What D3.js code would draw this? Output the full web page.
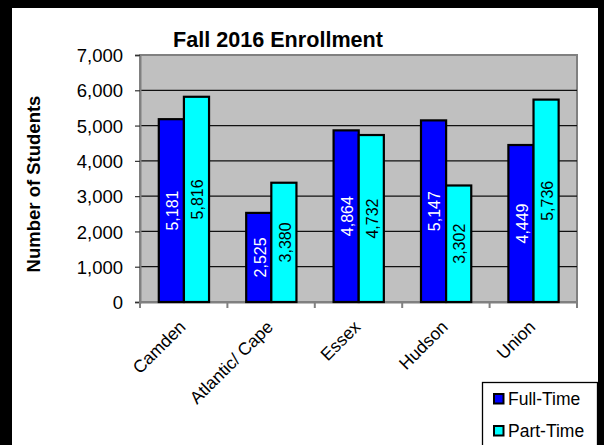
<!DOCTYPE html>
<html><head><meta charset="utf-8">
<script src="https://cdn.jsdelivr.net/npm/d3@7"></script>
<style>body{margin:0;background:#fff}svg{display:block;font-family:"Liberation Sans",Arial,sans-serif}</style>
</head><body>
<svg id="c" width="604" height="445"></svg>
<script>
const categories = ["Camden", "Atlantic/ Cape", "Essex", "Hudson", "Union"];
const seriesNames = ["Full-Time", "Part-Time"];
const fullTime = [5181, 2525, 4864, 5147, 4449];
const partTime = [5816, 3380, 4732, 3302, 5736];
const yTicks = [0, 1000, 2000, 3000, 4000, 5000, 6000, 7000];
const colors = ["#0000FF", "#00FFFF"];
const labelColors = ["#FFFFFF", "#000000"];
const title = "Fall 2016 Enrollment";
const yTitle = "Number of Students";

const svg = d3.select("#c");
const W = 604, H = 445;
// frame
svg.append("rect").attr("x",0).attr("y",0).attr("width",W).attr("height",H).attr("fill","#fff");
svg.append("rect").attr("x",0).attr("y",0).attr("width",12).attr("height",H).attr("fill","#000");
svg.append("rect").attr("x",0).attr("y",0).attr("width",W).attr("height",8).attr("fill","#000");
svg.append("rect").attr("x",598).attr("y",0).attr("width",6).attr("height",H).attr("fill","#000");

const L = 140, R = 577, T = 55, B = 302;
const x0 = d3.scaleBand().domain(categories).range([L, R]).padding(0);
const x1 = d3.scaleBand().domain(seriesNames).range([x0.bandwidth()*0.215, x0.bandwidth()*0.79]).padding(0);
const y = d3.scaleLinear().domain([0, 7000]).range([B, T]);

// plot area
svg.append("rect").attr("x",L).attr("y",T).attr("width",R-L).attr("height",B-T)
  .attr("fill","#C0C0C0").attr("stroke","#808080").attr("stroke-width",2);
// gridlines
svg.append("g").selectAll("line").data(yTicks.filter(d=>d>0&&d<7000)).join("line")
  .attr("x1",L).attr("x2",R).attr("y1",d=>y(d)).attr("y2",d=>y(d))
  .attr("stroke","#111").attr("stroke-width",1.3);

// y axis
const yAxis = d3.axisLeft(y).tickValues(yTicks).tickFormat(d3.format(",")).tickSize(5).tickPadding(12);
const gy = svg.append("g").attr("transform",`translate(${L},0)`).call(yAxis);
gy.select(".domain").attr("stroke","#808080").attr("stroke-width",2);
gy.selectAll(".tick line").attr("stroke","#333").attr("stroke-width",1.2);
gy.selectAll(".tick text").attr("font-size","18.5px").attr("fill","#000").attr("font-family","Liberation Sans, Arial, sans-serif").attr("dy","0.36em");

// x axis
const xAxis = d3.axisBottom(x0).tickSize(0).tickFormat("");
const gx = svg.append("g").attr("transform",`translate(0,${B})`).call(xAxis);
gx.select(".domain").attr("stroke","#808080").attr("stroke-width",2);
gx.selectAll(".tick").remove();
const bounds = categories.map(c=>x0(c)).concat([R]);
svg.append("g").selectAll("line").data(bounds).join("line")
  .attr("x1",d=>d).attr("x2",d=>d).attr("y1",B).attr("y2",B+6)
  .attr("stroke","#808080").attr("stroke-width",2);
svg.append("g").selectAll("text").data(categories).join("text")
  .attr("transform",d=>`translate(${x0(d)+x0.bandwidth()/2+3},${B+26}) rotate(-45)`)
  .attr("text-anchor","end").attr("font-size","17.5px").attr("fill","#000").text(d=>d);

// bars
const rows = categories.map((c,i)=>({cat:c, vals:[fullTime[i], partTime[i]]}));
const g = svg.append("g").selectAll("g").data(rows).join("g")
  .attr("transform",d=>`translate(${x0(d.cat)},0)`);
g.selectAll("rect").data(d=>d.vals.map((v,j)=>({s:seriesNames[j], v, j}))).join("rect")
  .attr("x",d=>x1(d.s)).attr("width",x1.bandwidth())
  .attr("y",d=>y(d.v)).attr("height",d=>B-y(d.v))
  .attr("fill",d=>colors[d.j]).attr("stroke","#000").attr("stroke-width",2.2);
g.selectAll("text").data(d=>d.vals.map((v,j)=>({s:seriesNames[j], v, j}))).join("text")
  .attr("transform",d=>`translate(${x1(d.s)+x1.bandwidth()/2+1},${(y(d.v)+B)/2}) rotate(-90)`)
  .attr("text-anchor","middle").attr("dy","0.36em").attr("font-size","16px")
  .attr("fill",d=>labelColors[d.j]).text(d=>d3.format(",")(d.v));

// title
svg.append("text").attr("x",278).attr("y",47).attr("text-anchor","middle")
  .attr("font-size","21.6px").attr("font-weight","bold").text(title);
svg.append("text").attr("transform","translate(40,184) rotate(-90)").attr("text-anchor","middle")
  .attr("font-size","18.5px").attr("font-weight","bold").text(yTitle);

// legend
const lg = svg.append("g");
lg.append("rect").attr("x",482.5).attr("y",382.5).attr("width",115).attr("height",80)
  .attr("fill","#fff").attr("stroke","#000").attr("stroke-width",1.3);
seriesNames.forEach((s,i)=>{
  lg.append("rect").attr("x",494).attr("y",394+i*32).attr("width",9.5).attr("height",9.5)
    .attr("fill",colors[i]).attr("stroke","#000").attr("stroke-width",2);
  lg.append("text").attr("x",508).attr("y",405+i*32).attr("font-size","17.5px").text(s);
});
</script>
</body></html>
